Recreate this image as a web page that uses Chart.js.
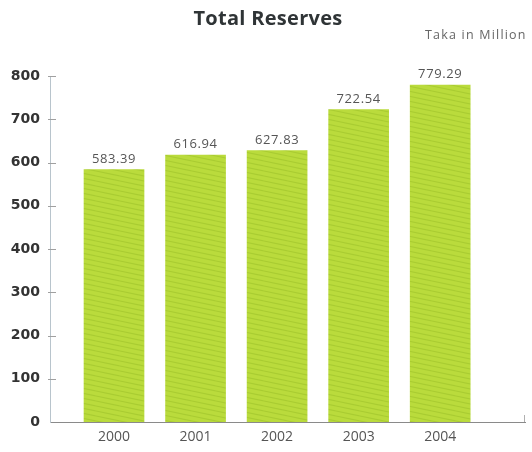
<!DOCTYPE html>
<html>
<head>
<meta charset="utf-8">
<script src="https://cdn.jsdelivr.net/npm/chart.js@4"></script>
<style>
  body { margin: 0; background: #fff; }
  #wrap { position: relative; width: 532px; height: 452px; overflow: hidden; }
  #title { position: absolute; left: 0; width: 536px; top: 4px; text-align: center;
           font: bold 20px "Open Sans", sans-serif; color: #2f3436; letter-spacing: 0.3px; }
  #unit { position: absolute; left: 425px; top: 26px; white-space: nowrap;
          font: 12.5px "Open Sans", sans-serif; color: #666; letter-spacing: 1.2px; }
</style>
</head>
<body>
<div id="wrap">
  <div id="title">Total Reserves</div>
  <div id="unit">Taka in Million</div>
  <canvas id="reserveChart" width="532" height="452"></canvas>
</div>
<script>
var years = [2000, 2001, 2002, 2003, 2004];
var reserves = [583.39, 616.94, 627.83, 722.54, 779.29];
var yTicks = [0, 100, 200, 300, 400, 500, 600, 700, 800];

// faintly striped green fill for the bars
function stripes() {
    var c = document.createElement('canvas');
    c.width = 24; c.height = 5;
    var g = c.getContext('2d');
    g.fillStyle = '#badb3c';
    g.fillRect(0, 0, 24, 5);
    g.strokeStyle = '#a9cc32';
    g.lineWidth = 1.2;
    for (var k = -2; k < 3; k++) {
        g.beginPath();
        g.moveTo(0, k * 5 + 1);
        g.lineTo(24, k * 5 + 6);
        g.stroke();
    }
    return g.createPattern(c, 'repeat');
}

var extras = {
    id: 'extras',
    afterDraw: function(chart) {
        var ctx = chart.ctx;
        var y = chart.scales.y;
        var area = chart.chartArea;
        ctx.save();
        // short ticks on the value axis
        ctx.strokeStyle = '#a0a0a0';
        ctx.lineWidth = 1;
        yTicks.forEach(function(v) {
            if (v === 0) return;
            var py = Math.round(y.getPixelForValue(v)) + 0.5;
            ctx.beginPath();
            ctx.moveTo(area.left - 2, py);
            ctx.lineTo(area.left + 6, py);
            ctx.stroke();
        });
        // little upturn at the end of the category axis
        ctx.strokeStyle = '#b0b0b0';
        ctx.beginPath();
        ctx.moveTo(area.right - 0.5, area.bottom);
        ctx.lineTo(area.right - 0.5, area.bottom - 7);
        ctx.stroke();
        // value labels
        ctx.fillStyle = '#555';
        ctx.font = '13px "Open Sans", sans-serif';
        ctx.letterSpacing = '0.6px';
        ctx.textAlign = 'center';
        ctx.textBaseline = 'bottom';
        chart.getDatasetMeta(0).data.forEach(function(bar, i) {
            ctx.fillText(reserves[i].toFixed(2), bar.x, bar.y - 4);
        });
        ctx.restore();
    }
};

new Chart(document.getElementById('reserveChart'), {
    type: 'bar',
    data: {
        datasets: [{
            data: years.map(function(yr, i) { return { x: yr, y: reserves[i] }; }),
            backgroundColor: stripes(),
            borderWidth: 0,
            barThickness: 60
        }]
    },
    options: {
        responsive: false,
        animation: false,
        layout: { padding: { top: 76, right: 7, bottom: 0, left: 0 } },
        plugins: { legend: { display: false }, tooltip: { enabled: false } },
        scales: {
            x: {
                type: 'linear',
                offset: false,
                min: 1999.215,
                max: 2005.04,
                afterBuildTicks: function(s) {
                    s.ticks = years.map(function(v) { return { value: v }; });
                },
                afterFit: function(s) { s.height = 30; },
                grid: { display: false, drawTicks: false },
                border: { display: true, color: '#8a8a8a', width: 1 },
                ticks: {
                    padding: 7,
                    color: '#555',
                    font: { family: 'Open Sans', size: 14 },
                    callback: function(v) { return String(v); }
                }
            },
            y: {
                min: 0,
                max: 800,
                afterBuildTicks: function(s) {
                    s.ticks = yTicks.map(function(v) { return { value: v }; });
                },
                afterFit: function(s) { s.width = 50; },
                grid: { display: false, drawTicks: false },
                border: { display: true, color: '#b8c4cc', width: 1 },
                ticks: {
                    padding: 10,
                    color: '#333',
                    font: { family: 'DejaVu Sans', size: 14, weight: 'bold' }
                }
            }
        }
    },
    plugins: [extras]
});
</script>
</body>
</html>
